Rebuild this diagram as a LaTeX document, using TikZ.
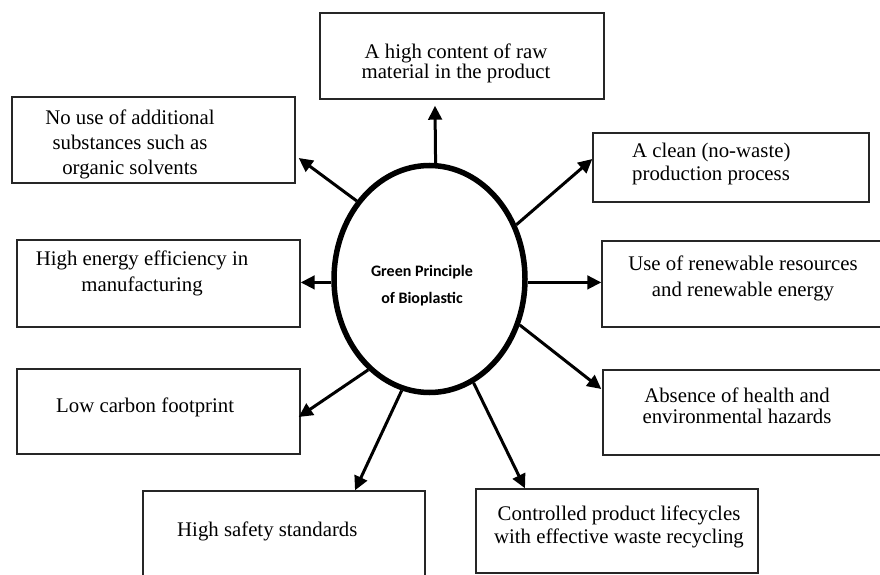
\documentclass[tikz,border=0pt]{standalone}
\usepackage{fontspec}
\setmainfont{Liberation Serif}
\newfontfamily\calfont{Carlito}
\usetikzlibrary{shapes.geometric,arrows.meta,calc}
\begin{document}
\begin{tikzpicture}[x=1pt,y=1pt,
  box/.style={draw=black!85,line width=1.4pt,rectangle,inner sep=0pt},
  txt/.style={font=\fontsize{20.8}{23}\selectfont,align=center,inner sep=0pt},
  arr/.style={line width=3pt,-{Triangle[width=13.5pt,length=14pt]}}]
\useasboundingbox (0,0) rectangle (880,574);
\clip (0,0) rectangle (880,574);
\fill[white] (0,0) rectangle (880,574);

% central ellipse
\node[ellipse,draw,line width=5.5pt,minimum width=191,minimum height=227,inner sep=0pt] (c) at (429.5,295) {};
\node[font=\calfont\bfseries\fontsize{16}{27}\selectfont,align=center,inner sep=0pt] (ct) at (422,288) {Green Principle\\of Bioplastic};

% boxes
\node[box,minimum width=284,minimum height=86] (top) at (462,518) {};
\node[box,minimum width=283,minimum height=86] (ul) at (153.5,434) {};
\node[box,minimum width=276,minimum height=69] (ur) at (731,406.5) {};
\node[box,minimum width=283,minimum height=87] (ml) at (158.5,290.5) {};
\node[box,minimum width=288,minimum height=86] (mr) at (746,290) {};
\node[box,minimum width=283,minimum height=85] (ll) at (158.5,162.5) {};
\node[box,minimum width=287,minimum height=85] (lr) at (746.5,161.5) {};
\node[box,minimum width=282,minimum height=99] (bl) at (284,33.5) {};
\node[box,minimum width=282,minimum height=84] (br) at (617,43) {};

% texts
\node[txt,font=\fontsize{20.8}{20}\selectfont] (t1) at (456,510.5) {A high content of raw\\material in the product};
\node[txt,font=\fontsize{20.8}{25}\selectfont] (t2) at (130,430) {No use of additional\\substances such as\\organic solvents};
\node[txt,align=left,anchor=west] (t3) at (632,410.5) {A clean (no-waste)\\production process};
\node[txt,font=\fontsize{20.8}{26}\selectfont] (t4) at (142,301) {High energy efficiency in\\manufacturing};
\node[txt,font=\fontsize{20.8}{26}\selectfont] (t5) at (743,296) {Use of renewable resources\\and renewable energy};
\node[txt,anchor=west] (t6) at (56,167) {Low carbon footprint};
\node[txt,font=\fontsize{20.8}{21}\selectfont] (t7) at (737,168.5) {Absence of health and\\environmental hazards};
\node[txt,anchor=west] (t8) at (177,43) {High safety standards};
\node[txt] (t9) at (619,47.5) {Controlled product lifecycles\\with effective waste recycling};

% arrows
\draw[arr] (c.87) -- ($(top.south)+(-27,-6)$);
\draw[arr] (c.133.6) -- ($(ul.east)+(3,-18)$);
\draw[arr] (c.32.6) -- ($(ur.west)+(0,8.5)$);
\draw[arr] (c.-2) -- (c.-2 -| mr.west);
\draw[arr] (c.182) -- (c.182 -| ml.east);
\draw[arr] (c.-27) -- ($(lr.west)+(-1,23.5)$);
\draw[arr] (c.236) -- ($(ll.east)+(-2,-5.5)$);
\draw[arr] (c.256.6) -- ($(bl.north)+(71,0)$);
\draw[arr] (c.293) -- ($(br.north)+(-92,0)$);
\end{tikzpicture}
\end{document}
